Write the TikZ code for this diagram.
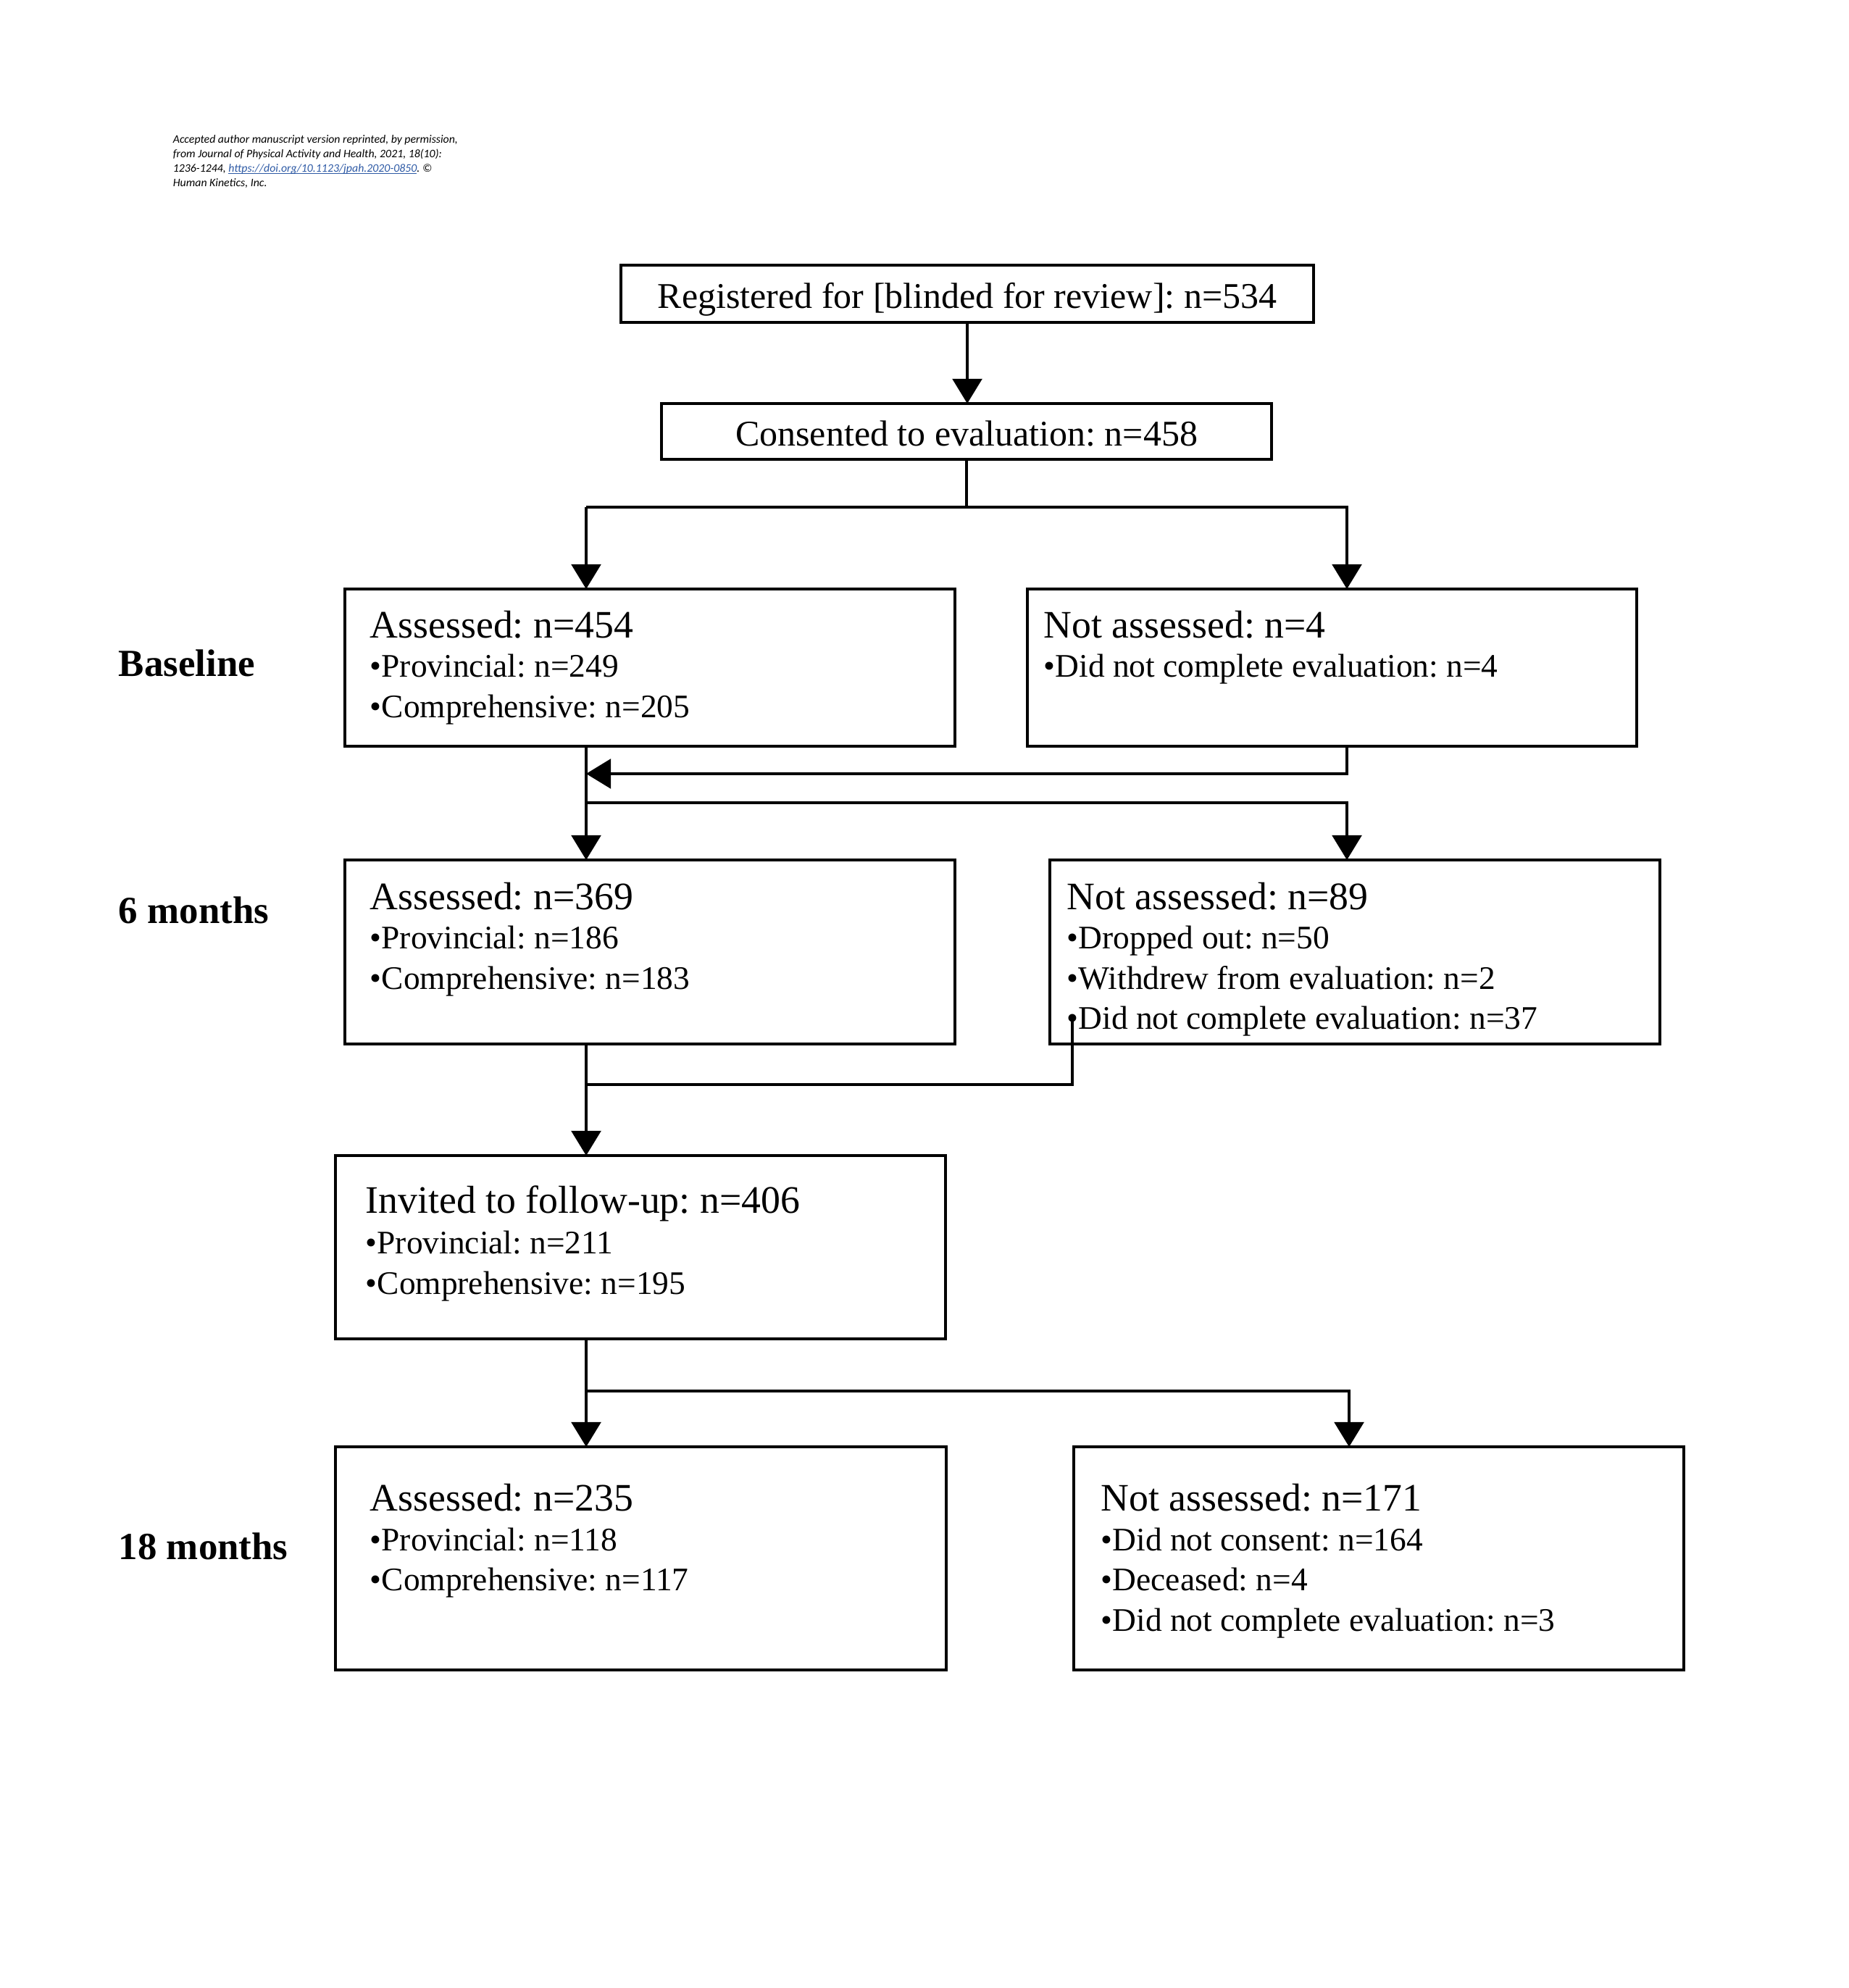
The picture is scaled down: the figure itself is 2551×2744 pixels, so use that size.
\documentclass[tikz,border=0pt]{standalone}
\usepackage{fontspec}
\setmainfont{Liberation Serif}
\newfontfamily\hdrfont{Carlito}
\usetikzlibrary{arrows.meta}
\definecolor{linkblue}{RGB}{46,90,165}
\newcommand\myulink[1]{\setbox0\hbox{#1}\rlap{\rule[-0.45pt]{\wd0}{0.2pt}}\box0}
\frenchspacing
\begin{document}
\frenchspacing
\begin{tikzpicture}[x=0.24pt, y=-0.24pt,
  box/.style={draw, line width=0.75pt, inner sep=0pt, outer sep=0pt, anchor=north west},
  conn/.style={line width=0.8pt, line join=miter},
  arr/.style={conn, -{Triangle[length=8.2pt, width=9.8pt]}},
  toptxt/.style={anchor=base, inner sep=0pt, font=\fontsize{12}{14}\selectfont},
  ttl/.style={anchor=base west, inner sep=0pt, font=\fontsize{12.9}{15}\selectfont},
  bul/.style={anchor=base west, inner sep=0pt, font=\fontsize{10.9}{13}\selectfont},
  lbl/.style={anchor=base west, inner sep=0pt, font=\fontsize{12.7}{15}\selectfont\bfseries},
  hdr/.style={anchor=base west, inner sep=0pt, font=\hdrfont\itshape\fontsize{3.8}{4.75}\selectfont},
]
\useasboundingbox (0,0) rectangle (2551,2744);

% header
\node[hdr] (h1) at (238,198) {Accepted author manuscript version reprinted, by permission,};
\node[hdr] (h2) at (238,218) {from Journal of Physical Activity and Health, 2021, 18(10):};
\node[hdr] (h3) at (238,238) {1236-1244, \textcolor{linkblue}{\myulink{https://doi.org/10.1123/jpah.2020-0850}}. ©};
\node[hdr] (h4) at (238,258) {Human Kinetics, Inc.};

% boxes
\node[box, minimum width=956*0.24pt, minimum height=79*0.24pt] (b1) at (857,366) {};
\node[box, minimum width=842*0.24pt, minimum height=77*0.24pt] (b2) at (913,557) {};
\node[box, minimum width=842*0.24pt, minimum height=217*0.24pt] (b3) at (476,813) {};
\node[box, minimum width=841*0.24pt, minimum height=217*0.24pt] (b4) at (1418,813) {};
\node[box, minimum width=842*0.24pt, minimum height=254*0.24pt] (b5) at (476,1187) {};
\node[box, minimum width=842*0.24pt, minimum height=254*0.24pt] (b6) at (1449,1187) {};
\node[box, minimum width=842*0.24pt, minimum height=253*0.24pt] (b7) at (463,1595) {};
\node[box, minimum width=843*0.24pt, minimum height=308*0.24pt] (b8) at (463,1997) {};
\node[box, minimum width=842*0.24pt, minimum height=308*0.24pt] (b9) at (1482,1997) {};

% texts
\node[toptxt] (t1) at (1335,426) {Registered for [blinded for review]: n=534};
\node[toptxt] (t2) at (1334,616) {Consented to evaluation: n=458};

\node[ttl] (t3a) at (510,881) {Assessed: n=454};
\node[bul] (t3b) at (510,935) {•Provincial: n=249};
\node[bul] (t3c) at (510,991) {•Comprehensive: n=205};

\node[ttl] (t4a) at (1440,881) {Not assessed: n=4};
\node[bul] (t4b) at (1440,935) {•Did not complete evaluation: n=4};

\node[ttl] (t5a) at (510,1255) {Assessed: n=369};
\node[bul] (t5b) at (510,1309) {•Provincial: n=186};
\node[bul] (t5c) at (510,1365) {•Comprehensive: n=183};

\node[ttl] (t6a) at (1472,1255) {Not assessed: n=89};
\node[bul] (t6b) at (1472,1309) {•Dropped out: n=50};
\node[bul] (t6c) at (1472,1365) {•Withdrew from evaluation: n=2};
\node[bul] (t6d) at (1472,1420) {•Did not complete evaluation: n=37};

\node[ttl] (t7a) at (504,1674) {Invited to follow-up: n=406};
\node[bul] (t7b) at (504,1730) {•Provincial: n=211};
\node[bul] (t7c) at (504,1786) {•Comprehensive: n=195};

\node[ttl] (t8a) at (510,2085) {Assessed: n=235};
\node[bul] (t8b) at (510,2140) {•Provincial: n=118};
\node[bul] (t8c) at (510,2195) {•Comprehensive: n=117};

\node[ttl] (t9a) at (1519,2085) {Not assessed: n=171};
\node[bul] (t9b) at (1519,2140) {•Did not consent: n=164};
\node[bul] (t9c) at (1519,2195) {•Deceased: n=4};
\node[bul] (t9d) at (1519,2251) {•Did not complete evaluation: n=3};

% side labels
\node[lbl] (l1) at (163,934) {Baseline};
\node[lbl] (l2) at (163,1274) {6 months};
\node[lbl] (l3) at (163,2152) {18 months};

% connectors
\coordinate (Lx) at (809,700);
\coordinate (Rx) at (1859,700);
\coordinate (r4) at (1859,1068);
\coordinate (r3) at (809,1068);
\coordinate (s3) at (809,1108);
\coordinate (s4) at (1859,1108);
\coordinate (d6) at (1480,1405);
\coordinate (d6b) at (1480,1497);
\coordinate (d5b) at (809,1497);
\coordinate (s7) at (809,1920);
\coordinate (s9) at (1862,1920);

\draw[arr] (b1.south) -- (b1.south |- b2.north);
\draw[conn] (b2.south) -- (b2.south |- Lx);
\draw[arr] (Lx) -- (Lx |- b3.north);
\draw[arr] (Lx) -- (Rx) -- (Rx |- b4.north);
\draw[arr] (r4 |- b4.south) -- (r4) -- (r3);
\draw[arr] (r3 |- b3.south) -- (r3 |- b5.north);
\draw[arr] (s3) -- (s4) -- (s4 |- b6.north);
\draw[conn] (d6) -- (d6b) -- (d5b);
\draw[arr] (d5b |- b5.south) -- (d5b |- b7.north);
\draw[arr] (d5b |- b7.south) -- (d5b |- b8.north);
\draw[arr] (s7) -- (s9) -- (s9 |- b9.north);
\end{tikzpicture}
\end{document}
